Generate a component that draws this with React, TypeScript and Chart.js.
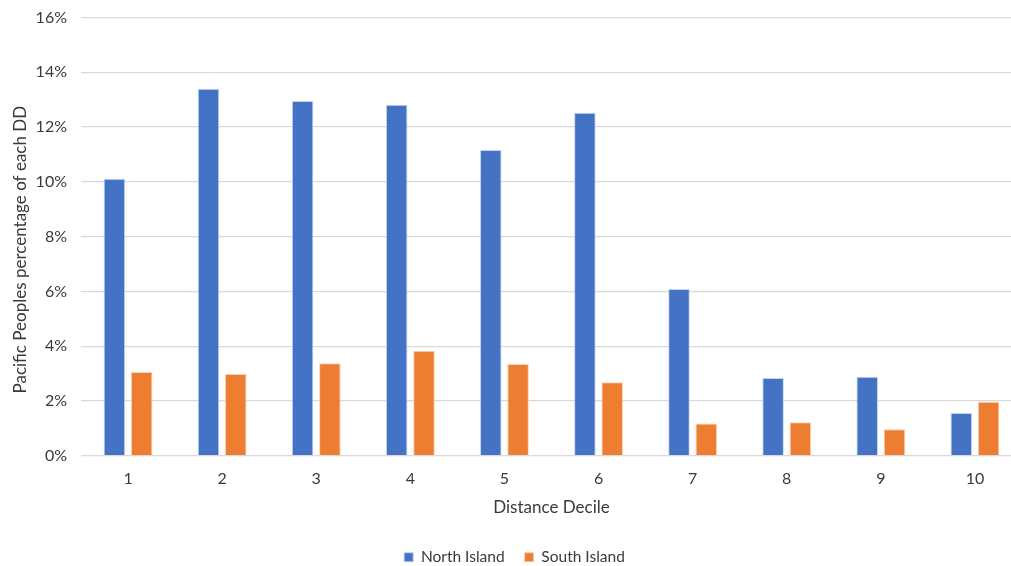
import React, { useEffect, useRef } from "react";
import { Chart, registerables } from "chart.js";

Chart.register(...registerables);

// Distance deciles along the x axis
const deciles: string[] = ["1", "2", "3", "4", "5", "6", "7", "8", "9", "10"];

// Pacific Peoples share (%) of each distance decile
const northIsland: number[] = [10.11, 13.4, 12.95, 12.81, 11.16, 12.52, 6.09, 2.84, 2.88, 1.56];
const southIsland: number[] = [3.06, 2.98, 3.38, 3.83, 3.35, 2.68, 1.18, 1.22, 0.97, 1.97];

const yMin = 0;
const yMax = 16;
const yStep = 2;

const FONT = "Lato, 'Open Sans', sans-serif";
const TEXT = "#3a3a3a";

export default function App() {
  const canvasRef = useRef<HTMLCanvasElement | null>(null);

  useEffect(() => {
    const canvas = canvasRef.current;
    if (!canvas) return;
    const chart = new Chart(canvas, {
      type: "bar",
      data: {
        labels: deciles,
        datasets: [
          {
            label: "North Island",
            data: northIsland,
            backgroundColor: "#4472C4",
            borderColor: "rgba(190,208,240,0.9)",
            borderWidth: 1,
            barPercentage: 0.79,
            categoryPercentage: 0.58,
          },
          {
            label: "South Island",
            data: southIsland,
            backgroundColor: "#ED7D31",
            borderColor: "rgba(250,205,175,0.9)",
            borderWidth: 1,
            barPercentage: 0.79,
            categoryPercentage: 0.58,
          },
        ],
      },
      options: {
        animation: false,
        responsive: false,
        maintainAspectRatio: false,
        layout: { padding: { left: 7, right: 8, top: 0, bottom: 0 } },
        plugins: {
          tooltip: { enabled: false },
          legend: {
            position: "bottom",
            labels: {
              boxWidth: 9,
              boxHeight: 9,
              padding: 20,
              color: TEXT,
              font: { family: FONT, size: 15.5 },
            },
          },
        },
        scales: {
          x: {
            grid: { display: false, drawTicks: false },
            border: { display: false },
            ticks: { color: TEXT, font: { family: FONT, size: 16 }, padding: 13.4 },
            title: {
              display: true,
              text: "Distance Decile",
              color: TEXT,
              font: { family: FONT, size: 17 },
              padding: { top: -4.4, bottom: 11.8 },
            },
          },
          y: {
            min: yMin,
            max: yMax,
            grid: { color: "#d9d9d9", lineWidth: 1.3, drawTicks: false },
            border: { display: false },
            ticks: {
              stepSize: yStep,
              color: TEXT,
              font: { family: FONT, size: 16 },
              padding: 14,
              callback: (v) => `${v}%`,
            },
            title: {
              display: true,
              text: "Pacific Peoples percentage of each DD      ",
              color: TEXT,
              font: { family: FONT, size: 17 },
              padding: { top: 3, bottom: 4 },
            },
            afterFit: (scale) => {
              scale.width = 74;
              // keep the plot top close to the canvas edge
              (scale as any).paddingTop = 17.5;
            },
          },
        },
      },
    });
    return () => chart.destroy();
  }, []);

  return (
    <div
      style={{
        position: "fixed",
        left: 0,
        top: 0,
        width: 1011,
        height: 566,
        overflow: "hidden",
        background: "#ffffff",
      }}
    >
      <canvas ref={canvasRef} width={1030} height={575} style={{ display: "block" }} />
    </div>
  );
}
